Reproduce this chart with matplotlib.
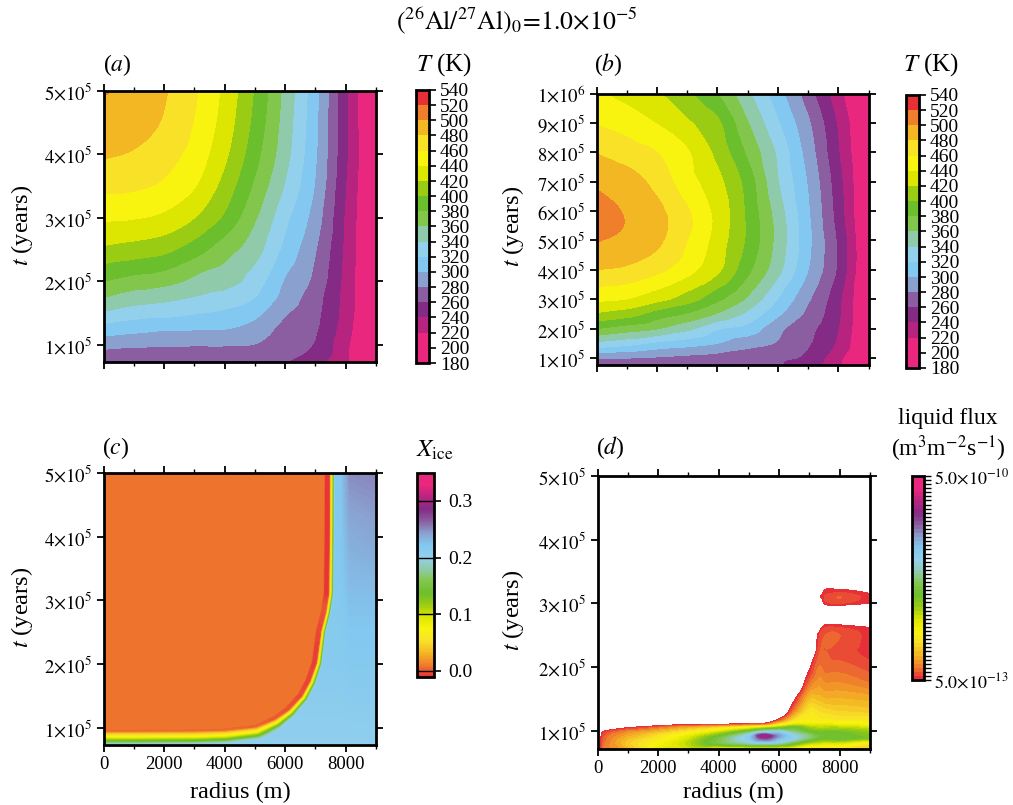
import numpy as np
import matplotlib
matplotlib.use("Agg")
import matplotlib.pyplot as plt
import matplotlib.tri as mtri
from matplotlib.colors import ListedColormap, LinearSegmentedColormap, BoundaryNorm
from matplotlib.path import Path

plt.rcParams['font.family'] = ['Liberation Serif', 'DejaVu Serif']
plt.rcParams['mathtext.fontset'] = 'stix'

W, H = 1013, 805
FS = 13.5
CBFS = 14
LF = 17.5

band_colors = ['#E9277F', '#E9277F', '#B62480', '#842C85', '#8A5EA0', '#8AA1D0',
               '#82C8F0', '#93D0EC', '#8FCBAA', '#82C64C', '#6CBF2C', '#9BCC14',
               '#DDE600', '#F9F40F', '#F9E128', '#F4B724', '#F07F2C', '#E72F38']
T_levels = list(range(180, 541, 20))
radius_cols = [0, 1000, 2000, 3000, 4000, 5000, 6000, 7000, 8000, 9000]

# Panel (a): temperature (K), rows are times (1e5 yr)
a_times = [0.724, 1.0, 1.25, 1.5, 1.75, 2.0, 2.5, 3.0, 3.5, 4.0, 4.5, 5.0]
a_T = [
    [262, 262, 262, 263, 262, 262, 260, 246, 222, 188],
    [286, 283, 282, 281, 281, 279, 266, 258, 224, 188],
    [311, 306, 302, 301, 300, 292, 273, 262, 228, 188],
    [337, 329, 326, 321, 316, 305, 282, 265, 231, 188],
    [360, 351, 346, 339, 332, 320, 292, 268, 232, 188],
    [380, 373, 368, 355, 349, 330, 298, 274, 233, 188],
    [416, 411, 405, 389, 368, 348, 314, 281, 235, 188],
    [443, 441, 435, 420, 396, 362, 325, 290, 237, 188],
    [465, 463, 456, 441, 412, 376, 338, 298, 240, 188],
    [482, 478, 468, 452, 424, 387, 347, 302, 243, 188],
    [492, 488, 478, 459, 431, 394, 351, 304, 243, 187],
    [502, 493, 482, 463, 435, 398, 354, 306, 243, 187],
]

# Panel (b): temperature (K), rows are times (1e5 yr)
b_times = [0.76, 1.0, 1.5, 2.0, 2.5, 3.0, 4.0, 5.0, 5.8, 7.0, 8.0, 9.0, 10.0]
b_T = [
    [263, 263, 263, 262, 262, 261, 261, 248, 223, 190],
    [283, 281, 278, 275, 272, 268, 264, 255, 225, 190],
    [335, 327, 316, 309, 300, 288, 278, 262, 236, 190],
    [380, 370, 361, 345, 322, 312, 285, 266, 240, 192],
    [417, 409, 391, 378, 358, 335, 304, 275, 243, 192],
    [445, 440, 427, 410, 385, 357, 320, 283, 245, 192],
    [480, 476, 465, 447, 424, 385, 346, 300, 256, 192],
    [501, 495, 484, 460, 431, 396, 353, 305, 256, 192],
    [507, 499, 487, 464, 434, 396, 351, 303, 251, 190],
    [497, 490, 473, 448, 426, 391, 341, 298, 247, 190],
    [479, 470, 460, 442, 414, 376, 336, 291, 241, 190],
    [459, 451, 439, 423, 404, 361, 322, 283, 237, 190],
    [443, 433, 422, 403, 380, 344, 308, 269, 227, 190],
]

# Panel (c): ice front position, its colour steps and the field beyond it
front_r = [-300, 1000, 3000, 4000, 5050, 5700, 6160, 6600, 6870, 7090, 7230, 7390, 7490, 7510, 7520]
front_t = [0.85, 0.85, 0.855, 0.87, 0.93, 1.07, 1.23, 1.46, 1.70, 2.00, 2.50, 2.80, 3.10, 4.00, 5.20]
front_px = [-3.0, -1.7, 0.0, 1.5, 2.7, 3.7, 5.0]
front_X = [0.009, 0.04, 0.07, 0.115, 0.15, 0.19, 0.21]
width_t = [0.9, 1.3, 2.5, 5.0]
width_f = [0.55, 1.0, 1.5, 1.5]
streak_t = [0.8, 1.1, 1.5, 2.2, 2.9, 3.1, 5.0]
streak_s = [0.0, 0.4, 0.7, 0.9, 0.5, 1.0, 1.0]
outer_r = [6000, 7800, 8100, 9000]
outer_t = [0.74, 2.0, 3.0, 4.0, 5.0]
outer_X = [
    [0.205, 0.205, 0.205, 0.205],
    [0.215, 0.215, 0.218, 0.218],
    [0.215, 0.218, 0.226, 0.226],
    [0.218, 0.220, 0.236, 0.240],
    [0.218, 0.220, 0.250, 0.252],
]

# Panel (d): liquid flux, percent of the log colour range (below 0 = no flux)
d_r = [0, 200, 500, 1000, 2000, 3000, 4000, 5000, 5500, 6000, 6500, 7000, 7300, 7500, 8000, 9000]
d_t = [0.72, 0.80, 0.88, 0.92, 0.98, 1.05, 1.10, 1.16, 1.30, 1.50, 1.75, 2.0, 2.25, 2.5, 2.62,
       2.72, 2.9, 3.0, 3.11, 3.22, 3.3, 5.0]
d_pct = [
    [-5, 6, 8, 13, 27, 30, 24, 24, 24, 23, 22, 18, 18, 18, 18, 15],
    [-5, 5, 9, 15, 24, 33, 45, 52, 55, 52, 42, 32, 30, 28, 28, 20],
    [-5, 4, 8, 13, 20, 30, 45, 62, 78, 66, 58, 48, 42, 40, 42, 38],
    [-5, 3, 7, 11, 18, 27, 40, 60, 86, 70, 58, 50, 44, 42, 42, 38],
    [-5, 1, 4, 8, 13, 20, 30, 45, 58, 60, 50, 42, 40, 40, 40, 36],
    [-5, -5, -3, 0, 5, 11, 16, 24, 30, 36, 42, 35, 33, 33, 33, 30],
    [-5, -5, -5, -5, -3, -1, 0, 3, 4, 18, 28, 27, 27, 27, 26, 24],
    [-5, -5, -5, -5, -5, -5, -5, -5, -5, 3, 18, 22, 21, 21, 20, 20],
    [-5, -5, -5, -5, -5, -5, -5, -5, -5, -10, 7, 19, 18, 17, 16, 15],
    [-5, -5, -5, -5, -5, -5, -5, -5, -5, -10, -1, 13, 13, 12, 12, 11],
    [-5, -5, -5, -5, -5, -5, -5, -5, -5, -10, -10, 5, 9, 8, 8, 6],
    [-5, -5, -5, -5, -5, -5, -5, -5, -5, -10, -10, -1, 6, 5, 5, 3],
    [-5, -5, -5, -5, -5, -5, -5, -5, -5, -10, -10, -10, 3, 4, 3, 1],
    [-5, -5, -5, -5, -5, -5, -5, -5, -5, -10, -10, -10, 1, 4, 4, 1],
    [-5, -5, -5, -5, -5, -5, -5, -5, -5, -10, -10, -10, -3, 2, 2, 0],
    [-5, -5, -5, -5, -5, -5, -5, -5, -5, -10, -10, -10, -10, -3, -3, -3],
    [-5, -5, -5, -5, -5, -5, -5, -5, -5, -5, -5, -5, -5, -5, -5, -5],
    [-5, -5, -5, -5, -5, -5, -5, -5, -5, -5, -5, -5, -5, 1, 2, 0],
    [-5, -5, -5, -5, -5, -5, -5, -5, -5, -5, -5, -5, -1, 2, 4, 1],
    [-5, -5, -5, -5, -5, -5, -5, -5, -5, -5, -5, -5, -5, 0, 0, -2],
    [-5, -5, -5, -5, -5, -5, -5, -5, -5, -5, -5, -5, -5, -5, -5, -5],
    [-5, -5, -5, -5, -5, -5, -5, -5, -5, -5, -5, -5, -5, -5, -5, -5],
]

fig = plt.figure(figsize=(W / 100, H / 100), dpi=100)


def smooth(rs, ts, Z, n=300):
    """Resample a read-off grid with matplotlib's cubic triangle interpolator so contours are smooth."""
    rs, ts, Z = np.asarray(rs, float), np.asarray(ts, float), np.asarray(Z, float)
    u = np.arange(len(rs), dtype=float)
    v = np.arange(len(ts), dtype=float)
    U, V = np.meshgrid(u, v)
    tri = mtri.Triangulation(U.ravel(), V.ravel())
    itp = mtri.CubicTriInterpolator(tri, Z.ravel(), kind='geom')
    rf = np.linspace(rs[0], rs[-1], n)
    tf = np.linspace(ts[0], ts[-1], n)
    uf = np.clip(np.interp(rf, rs, u), 1e-6, u[-1] - 1e-6)
    vf = np.clip(np.interp(tf, ts, v), 1e-6, v[-1] - 1e-6)
    UF, VF = np.meshgrid(uf, vf)
    return rf, tf, np.ma.filled(itp(UF, VF), np.nan)


def box(x0, x1, y0, y1):
    return fig.add_axes([x0 / W, 1 - y1 / H, (x1 - x0) / W, (y1 - y0) / H])


def ptext(x, y, s, **kw):
    kw.setdefault('ha', 'center')
    kw.setdefault('va', 'center')
    kw.setdefault('fontsize', LF)
    fig.text(x / W, 1 - y / H, s, **kw)


def style(ax, yticks, ylabels, bottom_labels):
    ax.set_xlim(0, 9000)
    ax.set_xticks([0, 2000, 4000, 6000, 8000])
    ax.set_xticks([1000, 3000, 5000, 7000, 9000], minor=True)
    ax.set_yticks(yticks)
    ax.set_yticklabels(ylabels, fontsize=FS)
    ax.tick_params(axis='both', which='major', direction='out', length=5, width=1.3,
                   top=True, right=True, labelsize=FS, pad=3)
    ax.tick_params(axis='x', which='minor', direction='out', length=3, width=1, top=True)
    ax.tick_params(axis='x', labelbottom=bottom_labels)
    for s in ax.spines.values():
        s.set_linewidth(2)
        s.set_zorder(10)


def tlabel(n, e=5):
    return rf"${n}{{\times}}10^{{{e}}}$"


def T_colorbar(mappable, x0, x1, y0, y1):
    cax = box(x0, x1, y0, y1)
    cb = fig.colorbar(mappable, cax=cax, ticks=T_levels)
    cb.ax.set_yticklabels([str(v) for v in T_levels], fontsize=CBFS)
    cb.ax.tick_params(length=5, width=1.2, pad=3)
    cb.outline.set_linewidth(2)
    return cb


t5 = [1, 2, 3, 4, 5]
T_cmap = ListedColormap(band_colors)
T_norm = BoundaryNorm(T_levels, T_cmap.N)
YLABEL = r"$\mathit{t}$ (years)"

# (a)
ax = box(103.5, 376, 91, 362.5)
rf, tf, Zf = smooth(radius_cols, a_times, a_T)
cs = ax.contourf(rf, tf * 1e5, Zf, levels=T_levels, cmap=T_cmap, norm=T_norm)
ax.set_ylim(0.724e5, 5e5)
style(ax, [v * 1e5 for v in t5], [tlabel(v) for v in t5], False)
T_colorbar(cs, 416, 429, 90, 363)
ptext(22, 225, YLABEL, rotation=90)

# (b)
ax = box(596.5, 868.5, 93.5, 365)
rf, tf, Zf = smooth(radius_cols, b_times, b_T)
cs = ax.contourf(rf, tf * 1e5, Zf, levels=T_levels, cmap=T_cmap, norm=T_norm)
ax.set_ylim(0.76e5, 1e6)
t10 = list(range(1, 10))
style(ax, [v * 1e5 for v in t10] + [1e6], [tlabel(v) for v in t10] + [tlabel(1, 6)], False)
T_colorbar(cs, 906, 919, 95, 368)
ptext(513, 226, YLABEL, rotation=90)

# (c)
X_cmap = LinearSegmentedColormap.from_list('x', band_colors[::-1], N=256)
rr = np.linspace(0, 9000, 272)
tt = np.linspace(0.74, 5.0, 272)
R, Tm = np.meshgrid(rr, tt)
px, py = R * 30.2 / 1000, Tm * 63.7
fx, fy = np.array(front_r) * 30.2 / 1000, np.array(front_t) * 63.7
dist = np.full(R.shape, 1e9)
for i in range(len(fx) - 1):
    vx, vy = fx[i + 1] - fx[i], fy[i + 1] - fy[i]
    u = np.clip(((px - fx[i]) * vx + (py - fy[i]) * vy) / (vx * vx + vy * vy), 0, 1)
    dist = np.minimum(dist, np.hypot(px - fx[i] - u * vx, py - fy[i] - u * vy))
poly = Path(list(zip(front_r, front_t)) + [(-2000, 6), (-2000, front_t[0])])
inside = poly.contains_points(np.c_[R.ravel(), Tm.ravel()]).reshape(R.shape)
signed = np.where(inside, -dist, dist)
Xout = np.empty(R.shape)
ox = np.array(outer_X)
for j, tv in enumerate(tt):
    row = np.array([np.interp(tv, outer_t, ox[:, k]) for k in range(ox.shape[1])])
    Xout[j] = np.interp(rr, outer_r, row)
scaled = signed * np.interp(Tm, width_t, width_f)
X = np.interp(scaled, front_px, front_X) * np.where(signed > 0, Xout / 0.21, 1.0)
bump = np.interp(signed, [-7.5, -6.5, -2.2, -1.4], [0, 1, 1, 0])
X = X - bump * np.interp(Tm, streak_t, streak_s) * 0.017
ax = box(103.5, 376, 473, 744.5)
im = ax.imshow(X, origin='lower', extent=[0, 9000, 0.74e5, 5e5], aspect='auto',
               cmap=X_cmap, vmin=-0.0106, vmax=0.349, interpolation='bilinear')
ax.set_ylim(0.74e5, 5e5)
style(ax, [v * 1e5 for v in t5], [tlabel(v) for v in t5], True)
cax = box(417, 434, 473, 677)
cb = fig.colorbar(im, cax=cax, ticks=[0, 0.1, 0.2, 0.3])
cb.ax.set_yticklabels(['0.0', '0.1', '0.2', '0.3'], fontsize=CBFS)
cb.ax.tick_params(length=5, width=1.2, pad=5)
cb.outline.set_linewidth(2)
for v in [0, 0.1, 0.2, 0.3]:
    cb.ax.axhline(v, color='black', lw=1)
ptext(22, 607, YLABEL, rotation=90)
ptext(240, 792, "radius (m)")

# (d)
d_levels = list(range(0, 101, 2))
d_cmap = LinearSegmentedColormap.from_list('d', band_colors[::-1], N=50)
ax = box(597.5, 870, 476, 748.5)
rf, tf, Zf = smooth(d_r, d_t, d_pct)
cs = ax.contourf(rf, tf * 1e5, Zf, levels=d_levels, cmap=d_cmap)
ax.set_ylim(0.72e5, 5e5)
style(ax, [v * 1e5 for v in t5], [tlabel(v) for v in t5], True)
cax = box(912, 924, 476, 680)
cb = fig.colorbar(cs, cax=cax, ticks=d_levels)
cb.ax.set_yticklabels([r"$5.0{\times}10^{-13}$"] + [''] * (len(d_levels) - 2) + [r"$5.0{\times}10^{-10}$"], fontsize=13)
cb.ax.tick_params(length=5, width=1, pad=2)
cb.outline.set_linewidth(2)
ptext(513, 610, YLABEL, rotation=90)
ptext(733, 792, "radius (m)")

# Texts
ptext(517, 21, r"$(^{26}\mathrm{Al}/^{27}\mathrm{Al})_{0}\!=\!1.0{\times}10^{-5}$", fontsize=18.5)
ptext(117, 65, r"($\mathit{a}$)", fontsize=17)
ptext(608, 65, r"($\mathit{b}$)", fontsize=17)
ptext(116, 448, r"($\mathit{c}$)", fontsize=17)
ptext(610, 448, r"($\mathit{d}$)", fontsize=17)
ptext(444, 65, r"$\mathit{T}$ (K)", fontsize=18)
ptext(931, 65, r"$\mathit{T}$ (K)", fontsize=18)
ptext(435, 450, r"$\mathit{X}_{\mathrm{ice}}$", fontsize=18)
ptext(948, 418, "liquid flux", fontsize=17)
ptext(948, 449, r"(m$^{3}$m$^{-2}$s$^{-1}$)", fontsize=17)

fig.savefig("out.png", dpi=100)
